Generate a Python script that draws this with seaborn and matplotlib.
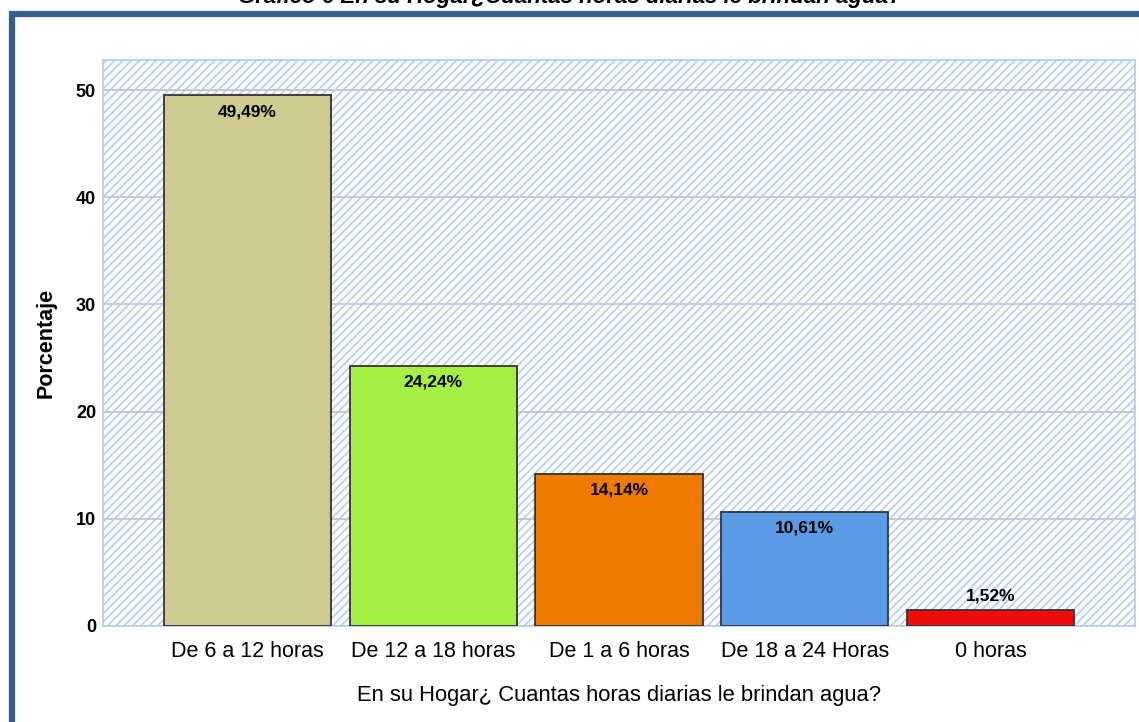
import matplotlib
matplotlib.use("Agg")
import matplotlib.pyplot as plt
import seaborn as sns
import pandas as pd
from matplotlib.patches import Rectangle

categories = ["De 6 a 12 horas", "De 12 a 18 horas", "De 1 a 6 horas", "De 18 a 24 Horas", "0 horas"]
values = [49.49, 24.24, 14.14, 10.61, 1.52]
labels = ["49,49%", "24,24%", "14,14%", "10,61%", "1,52%"]
colors = ["#cfca8f", "#a5f043", "#ef7a00", "#5b9be6", "#ee0c0c"]
yticks = [0, 10, 20, 30, 40, 50]

sns.set_theme(style="white")
plt.rcParams['font.family'] = ['Liberation Sans', 'DejaVu Sans']
plt.rcParams['text.color'] = 'black'
plt.rcParams['hatch.linewidth'] = 1.3
plt.rcParams['hatch.color'] = '#b3d2f6'

fig = plt.figure(figsize=(11.39, 7.22), dpi=100)
ax = fig.add_axes([103/1139, 1 - 626/722, (1135-103)/1139, (626-60)/722])

df = pd.DataFrame({"cat": categories, "val": values})
sns.barplot(data=df, x="cat", y="val", hue="cat", palette=colors, legend=False,
            saturation=1, width=0.9, edgecolor="#333333", linewidth=1.3, ax=ax, zorder=3)

ax.add_patch(Rectangle((0, 0), 1, 1, transform=ax.transAxes, facecolor="white",
                       edgecolor="#b3d2f6", hatch="////", lw=0, zorder=0))
ax.set_xlim(-0.777, 4.777)
ax.set_ylim(0, 52.8)
ax.set_yticks(yticks)
ax.yaxis.grid(True, color="#c9c9c9", lw=1.4, zorder=1)
ax.set_axisbelow(False)
for l in ax.get_ygridlines():
    l.set_zorder(1)
for s in ax.spines.values():
    s.set_color("#a9cdf2")
    s.set_linewidth(1.2)
ax.tick_params(axis="y", length=0, pad=5, colors="black")
ax.tick_params(axis="x", length=0, labelsize=15.5, pad=11, colors="black")
for t in ax.get_yticklabels():
    t.set_fontweight("bold")
    t.set_fontsize(13)
ax.set_ylabel("Porcentaje", fontsize=15.5, fontweight="bold", labelpad=14, color="black")
ax.set_xlabel("En su Hogar¿ Cuantas horas diarias le brindan agua?", fontsize=15.8,
              labelpad=16, color="black")

for i, (v, lab) in enumerate(zip(values, labels)):
    if v > 5:
        ax.text(i, v - 0.8, lab, ha="center", va="top", fontsize=12.5, fontweight="bold",
                fontstretch="condensed", color="black", zorder=5)
    else:
        ax.text(i, v + 0.6, lab, ha="center", va="bottom", fontsize=12.5, fontweight="bold",
                fontstretch="condensed", color="black", zorder=5)

fig.patches.append(Rectangle((12/1139, -0.1), 1.2, 1 - 14/722 + 0.1, transform=fig.transFigure,
                             fill=False, edgecolor="#34608f", lw=4.5, zorder=0))
fig.text(0.5, 1 - 3/722, "Gráfico 6 En su Hogar¿Cuantas horas diarias le brindan agua?",
         ha="center", va="baseline", fontsize=16, fontweight="bold", style="italic")

fig.savefig("out.png", dpi=100)
